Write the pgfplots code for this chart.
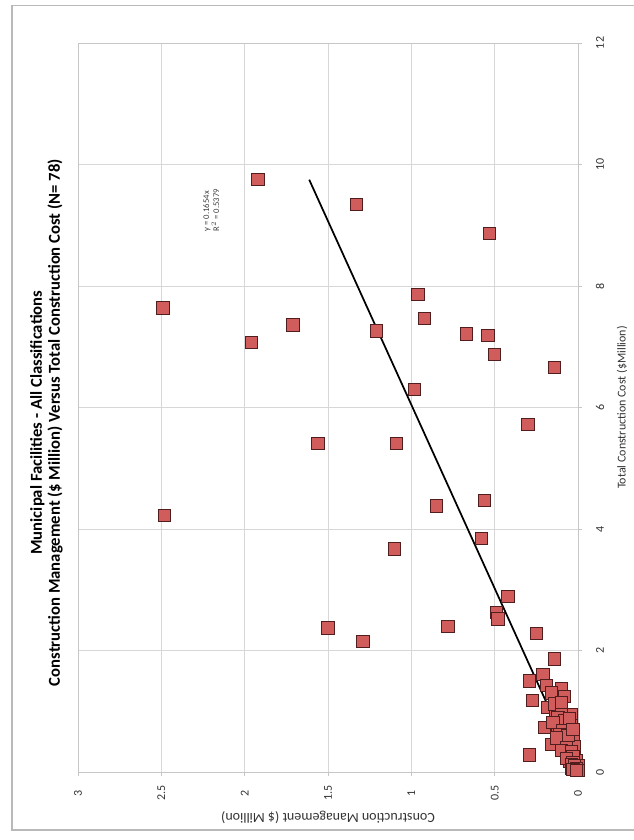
\documentclass[border=0pt]{standalone}
\usepackage{pgfplots}
\pgfplotsset{compat=1.18}
\usepackage{fontspec}
\setmainfont{Carlito}
\definecolor{mkfill}{RGB}{208,92,92}
\definecolor{mkdraw}{RGB}{80,30,30}
\definecolor{gridc}{RGB}{215,215,215}
\begin{document}
\begin{tikzpicture}
\begin{scope}[rotate=90, transform shape]
\path[use as bounding box] (0pt,0pt) rectangle (630pt,474.75pt);
\draw[gray!55, line width=1.2pt] (7.5pt,-3pt) rectangle (626pt,465.75pt);
\begin{axis}[
  at={(51pt,41.25pt)}, anchor=south west,
  scale only axis, width=546.75pt, height=375pt,
  xmin=0, xmax=12, ymin=0, ymax=3,
  xtick={0,2,...,12}, ytick={0,0.5,...,3},
  grid=major, major grid style={gridc, line width=0.6pt},
  axis line style={gridc!80!gray, line width=0.6pt},
  tick style={gridc!80!gray, line width=0.6pt},
  tick pos=left, tick align=outside, major tick length=3pt,
  /pgf/number format/assume math mode=true,
  ticklabel style={font=\fontsize{9}{10}\selectfont, text=black!80},
  xticklabel style={anchor=center, yshift=-13.5pt},
  yticklabel style={anchor=center, xshift=-13pt},
  xlabel={Total Construction Cost (\$Million)},
  ylabel={Construction Management (\$ Million)},
  xlabel style={font=\fontsize{9}{10}\selectfont, text=black!80, at={(axis description cs:0.5,-0.088)}, anchor=center},
  ylabel style={font=\fontsize{10.5}{12}\selectfont, text=black!80, at={(axis description cs:-0.0617,0.5)}, anchor=center},
  clip=false,
]
\addplot[only marks, mark=square*, mark size=4.6pt,
  mark options={fill=mkfill, draw=mkdraw, line width=0.7pt}] coordinates {
(9.75,1.92) (9.34,1.33) (8.87,0.53) (7.64,2.49) (7.36,1.71) (7.07,1.96)
(7.86,0.96) (7.47,0.92) (7.26,1.21) (7.21,0.67) (7.18,0.54) (6.87,0.50)
(6.66,0.14) (6.30,0.98) (5.72,0.30) (5.41,1.56) (5.41,1.09) (4.38,0.85)
(4.47,0.56) (4.22,2.48) (3.85,0.58) (3.67,1.10) (2.89,0.42) (2.63,0.49)
(2.52,0.48) (2.37,1.50) (2.15,1.29) (2.39,0.78) (2.28,0.25)
(1.86,0.14) (1.61,0.21) (1.50,0.29) (1.43,0.19) (1.38,0.10) (1.24,0.08)
(1.18,0.275) (1.06,0.18) (1.02,0.135) (0.94,0.04) (0.73,0.20) (0.74,0.125)
(0.77,0.04) (0.45,0.16) (0.47,0.09) (0.52,0.025) (0.28,0.29) (0.30,0.06)
(0.41,0.02) (0.17,0.05) (0.19,0.01) (0.08,0.02) (0.11,0.0) (0.06,0.04)
(1.30,0.16) (1.12,0.14) (0.98,0.10) (0.90,0.12) (0.85,0.08) (0.82,0.15)
(0.68,0.09) (0.62,0.11) (0.60,0.06) (0.56,0.13) (0.40,0.07) (0.36,0.10)
(0.33,0.04) (0.25,0.03) (0.22,0.07) (0.15,0.03) (0.12,0.04) (0.10,0.02)
(0.05,0.01) (0.04,0.03) (0.03,0.0) (0.02,0.01) (1.15,0.10) (0.88,0.05)
(0.70,0.03)
};
\addplot[black, line width=1.3pt] coordinates {(0.02,0.0033) (9.75,1.6127)};
\node[font=\fontsize{6.5}{7.5}\selectfont, text=black!75, align=left] at (axis cs:9.25,2.2) {y = 0.1654x\\R$^2$ = 0.5379};
\end{axis}
\node[font=\bfseries\fontsize{12.5}{13.5}\selectfont, align=center] at (313pt,440pt)
  {Municipal Facilities - All Classifications\\Construction Management (\$ Million) Versus Total Construction Cost (N= 78)};
\end{scope}
\end{tikzpicture}
\end{document}
